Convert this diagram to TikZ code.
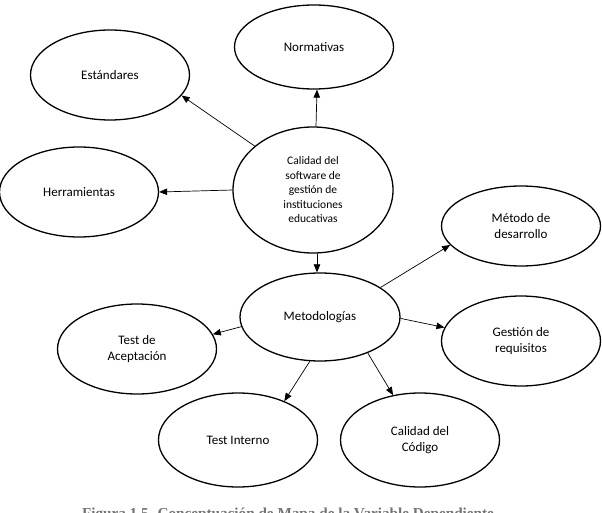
\documentclass[tikz,border=0pt]{standalone}
\usepackage{fontspec}
\setmainfont{Carlito}
\newfontfamily\capfont{Liberation Serif}
\usetikzlibrary{shapes.geometric,arrows.meta}
\begin{document}
\begin{tikzpicture}[x=1pt,y=-1pt,
  bub/.style={draw, ellipse, line width=1.3pt, inner sep=0pt, align=center,
    minimum width=159pt, minimum height=90pt, font=\fontsize{13}{16.7}\selectfont},
  con/.style={line width=0.7pt, -{Triangle[length=8pt,width=6.5pt]}}]
\fill[white] (0,0) rectangle (602,513);
\useasboundingbox (0,0) rectangle (602,513);
% nodes
\node[bub, minimum height=84pt] (nor) at (314,47) {Normativas};
\node[bub] (est) at (110,75) {Estándares};
\node[bub] (her) at (79,192) {Herramientas};
\node[bub, minimum width=160pt, minimum height=126pt,
  font=\fontsize{11.5}{14.5}\selectfont] (c) at (313,190)
  {Calidad del\\software de\\gestión de\\instituciones\\educativas};
\node[bub, minimum height=80pt] (mdd) at (521,226) {Método de\\desarrollo};
\node[bub, minimum width=160pt, minimum height=88pt] (met) at (320,317) {Metodologías};
\node[bub] (gr) at (521,341) {Gestión de\\requisitos};
\node[bub] (ta) at (137,349) {Test de\\Aceptación};
\node[bub, minimum height=94pt] (ti) at (238,440) {Test Interno};
\node[bub, minimum height=94pt] (cc) at (420,440) {Calidad del\\Código};
% caption (cut by the page edge, as in the reference)
\node[font=\capfont\bfseries\fontsize{15.2}{17}\selectfont, text=black!55,
  anchor=north, inner sep=0pt] (cap) at (288,508)
  {Figura 1.5. Conceptuación de Mapa de la Variable Dependiente};
% connectors
\draw[con] ([xshift=3pt]c.north) -- ([xshift=3pt]nor.south);
\draw[con] (c.143.6) -- (est.-16.6);
\draw[con] (c.west) -- (her.east);
\draw[con] ([xshift=4pt]c.south) -- ([xshift=-3pt]met.north);
\draw[con] (met.26.2) -- (mdd.195.6);
\draw[con] (met.187.8) -- (ta.11.3);
\draw[con] (met.-1) -- (gr.170);
\draw[con] (met.257.7) -- (ti.40.7);
\draw[con] (met.323.5) -- (cc.121);
\end{tikzpicture}
\end{document}
